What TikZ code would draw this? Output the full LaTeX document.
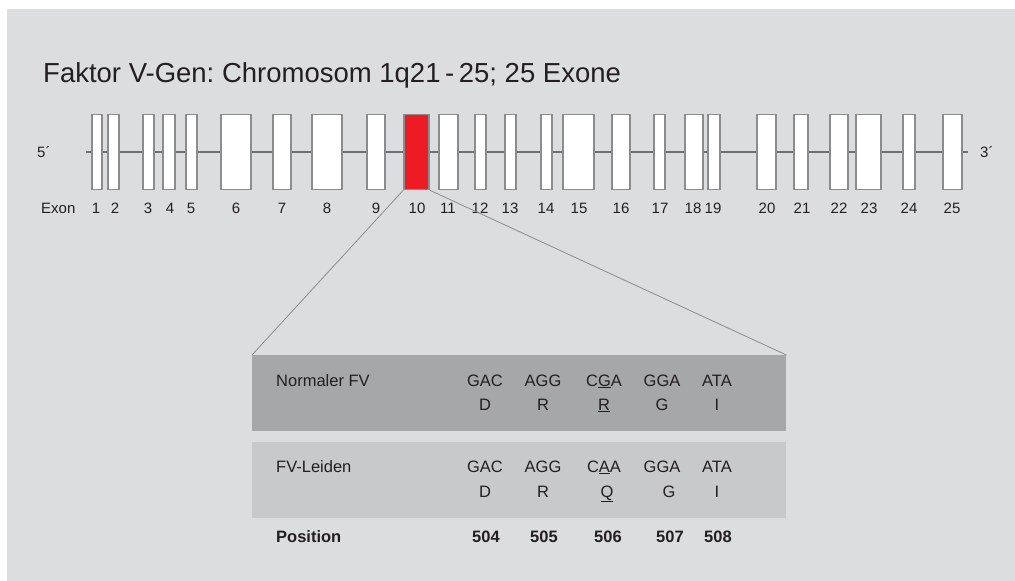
\documentclass[tikz,border=0pt]{standalone}
\usepackage{fontspec}
\setmainfont{Liberation Sans}
\usepackage{tikz}
\usepackage{xcolor}
\frenchspacing
\definecolor{panelgray}{HTML}{DCDDDF}
\definecolor{darkband}{HTML}{A6A7A9}
\definecolor{lightband}{HTML}{C8C9CB}
\definecolor{backbonegray}{HTML}{6E6F71}
\definecolor{exonline}{HTML}{8B8C8E}
\definecolor{exonred}{HTML}{ED1C24}
\definecolor{ink}{HTML}{231F20}
\tikzset{
    exon-box/.style = {draw=exonline, fill=white, line width=1.4pt, rectangle, inner sep=0pt, minimum height=75pt},
    exon-label/.style = {font=\fontsize{15}{17}\selectfont, text=ink, anchor=base, inner sep=0pt},
    end-label/.style = {font=\fontsize{15}{17}\selectfont, text=ink, anchor=base west, inner sep=0pt},
    backbone/.style = {draw=backbonegray, line width=2.8pt},
    zoom-line/.style = {draw=exonline, line width=0.8pt},
    table-band/.style = {rectangle, anchor=north west, inner sep=0pt, minimum width=534pt, minimum height=76pt},
    table-text/.style = {font=\fontsize{16.5}{19}\selectfont, text=ink, anchor=base, inner sep=0pt},
}

\begin{document}
\begin{tikzpicture}[x=1pt, y=-1pt]
\useasboundingbox (0,0) rectangle (1015,581);
\fill[panelgray] (7,9) rectangle (1015,581);

% title
\node[font=\fontsize{27.5}{32}\selectfont, text=ink, anchor=base west, inner sep=0pt] (title) at (43,82) {Faktor V-Gen: Chromosom 1q21\,-\,25; 25 Exone};

% gene with exons
\coordinate (five-end) at (86,152);
\coordinate (three-end) at (968,152);
\draw[backbone] (five-end) -- (three-end);
\node[end-label] (five-label) at (37,157) {5´};
\node[end-label] (three-label) at (980,157) {3´};
\foreach \n/\xa/\xb in {1/92/102, 2/108/119, 3/143/154, 4/163/175, 5/186/197, 6/221/251, 7/273/291, 8/312/342, 9/367/385,
    11/439/458, 12/475/486, 13/505/516, 14/541/552, 15/563/594, 16/612/630, 17/654/665, 18/685/703, 19/708/720,
    20/757/776, 21/794/808, 22/830/848, 23/856/881, 24/903/915, 25/943/962}
    \node[exon-box, minimum width=\xb-\xa] (exon-\n) at ({(\xa+\xb)/2},152) {};
\node[exon-box, fill=exonred, minimum width=25] (exon-10) at (416.5,152) {};

% exon numbers
\node[end-label] (exon-word) at (41,213) {Exon};
\foreach \n/\x in {1/96, 2/115, 3/148, 4/170, 5/191, 6/236, 7/282, 8/327, 9/376, 10/417, 11/448, 12/480, 13/510,
    14/546, 15/579, 16/621, 17/660, 18/693, 19/713, 20/767, 21/802, 22/839, 23/869, 24/909, 25/952}
    \node[exon-label] (label-\n) at (\x,213) {\n};

% sequence table
\node[table-band, fill=darkband] (normal-band) at (252,355) {};
\node[table-band, fill=lightband] (leiden-band) at (252,442) {};
\draw[zoom-line] (exon-10.south west) -- (normal-band.north west);
\draw[zoom-line] (exon-10.south east) -- (normal-band.north east);

\node[table-text, anchor=base west] (normal-name) at (276,386) {Normaler FV};
\node[table-text, anchor=base west] (leiden-name) at (276,472) {FV-Leiden};
\node[table-text, anchor=base west, font=\fontsize{16.5}{19}\selectfont\bfseries] (position-name) at (276,542) {Position};

\foreach \x/\cod/\xaa/\aa in {485/GAC/485/D, 543/AGG/543/R, 604/{C\underline{G}A}/604/{\underline{R}}, 662/GGA/662/G, 717/ATA/717/I}{
    \node[table-text] at (\x,386) {\cod};
    \node[table-text] at (\xaa,410) {\aa};
}
\foreach \x/\cod/\xaa/\aa in {485/GAC/485/D, 543/AGG/543/R, 604/{C\underline{A}A}/607/{\underline{Q}}, 662/GGA/669/G, 717/ATA/717/I}{
    \node[table-text] at (\x,472) {\cod};
    \node[table-text] at (\xaa,497) {\aa};
}
\foreach \x/\pos in {486/504, 544/505, 608/506, 670/507, 718/508}
    \node[table-text, font=\fontsize{16.5}{19}\selectfont\bfseries] (pos-\pos) at (\x,542) {\pos};
\end{tikzpicture}
\end{document}
